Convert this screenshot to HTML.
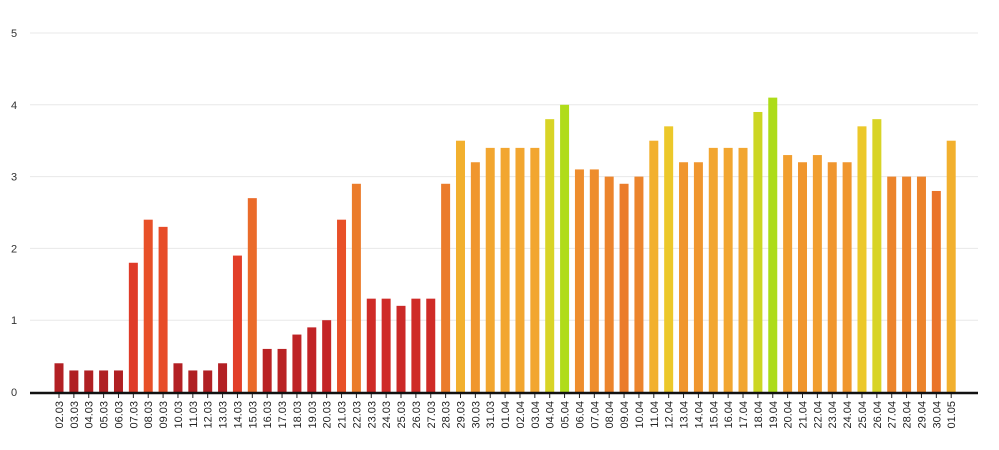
<!DOCTYPE html>
<html><head><meta charset="utf-8"><style>
html,body{margin:0;padding:0;background:#fff;}
svg{display:block;font-family:"Liberation Sans",sans-serif;}
</style></head><body>
<svg id="chart" width="999" height="450" viewBox="0 0 999 450"></svg>
<script>
const categories=["02.03","03.03","04.03","05.03","06.03","07.03","08.03","09.03","10.03","11.03","12.03","13.03","14.03","15.03","16.03","17.03","18.03","19.03","20.03","21.03","22.03","23.03","24.03","25.03","26.03","27.03","28.03","29.03","30.03","31.03","01.04","02.04","03.04","04.04","05.04","06.04","07.04","08.04","09.04","10.04","11.04","12.04","13.04","14.04","15.04","16.04","17.04","18.04","19.04","20.04","21.04","22.04","23.04","24.04","25.04","26.04","27.04","28.04","29.04","30.04","01.05"];
const values=[0.4,0.3,0.3,0.3,0.3,1.8,2.4,2.3,0.4,0.3,0.3,0.4,1.9,2.7,0.6,0.6,0.8,0.9,1.0,2.4,2.9,1.3,1.3,1.2,1.3,1.3,2.9,3.5,3.2,3.4,3.4,3.4,3.4,3.8,4.0,3.1,3.1,3.0,2.9,3.0,3.5,3.7,3.2,3.2,3.4,3.4,3.4,3.9,4.1,3.3,3.2,3.3,3.2,3.2,3.7,3.8,3.0,3.0,3.0,2.8,3.5];
const yTicks=[0,1,2,3,4,5];
const NS="http://www.w3.org/2000/svg";
const svg=document.getElementById('chart');
const y0=392,unit=71.8,x0=59,step=14.87,bw=9;
function yScale(v){return y0-v*unit;}
function xScale(i){return x0+i*step;}
const stops=[[0,[168,30,34]],[1.0,[196,36,38]],[1.5,[214,48,40]],[1.9,[226,62,40]],[2.4,[232,80,40]],[2.8,[234,116,42]],[3.0,[236,132,44]],[3.2,[240,150,46]],[3.4,[242,166,48]],[3.5,[242,176,46]],[3.7,[236,200,42]],[3.8,[216,212,38]],[3.9,[204,214,34]],[4.0,[176,220,26]],[5,[150,220,20]]];
function color(v){for(let k=1;k<stops.length;k++){if(v<=stops[k][0]){const a=stops[k-1],b=stops[k],t=(v-a[0])/(b[0]-a[0]);return 'rgb('+a[1].map((c,j)=>Math.round(c+(b[1][j]-c)*t)).join(',')+')';}}return 'rgb(150,220,20)';}
function mk(t,attrs,parent){const e=document.createElementNS(NS,t);for(const k in attrs)e.setAttribute(k,attrs[k]);(parent||svg).appendChild(e);return e;}
yTicks.forEach(t=>{
  if(t>0){const g=mk('line',{x1:30,x2:978,y1:yScale(t),y2:yScale(t),stroke:'#e8e8e8','stroke-width':1});
  
  }
  const l=mk('text',{x:14,y:yScale(t)+4,'font-size':11,fill:'#333','text-anchor':'middle'});
  l.textContent=t;
  
  
});
values.forEach((v,i)=>{
  const r=mk('rect',{x:xScale(i)-bw/2,y:yScale(v),width:bw,height:y0-yScale(v),fill:color(v)});
  
  
  const tk=mk('line',{x1:xScale(i),x2:xScale(i),y1:y0,y2:y0+6,stroke:'#222','stroke-width':1});
  
  
  const tx=mk('text',{x:0,y:0,'font-size':11,fill:'#222','text-anchor':'end',transform:'translate('+(xScale(i)+4)+','+(y0+9)+') rotate(-90)'});
  tx.textContent=categories[i];
  
  
});
const ax=mk('line',{x1:30,x2:978,y1:y0+1,y2:y0+1,stroke:'#111','stroke-width':2.5});


</script>
</body></html>
